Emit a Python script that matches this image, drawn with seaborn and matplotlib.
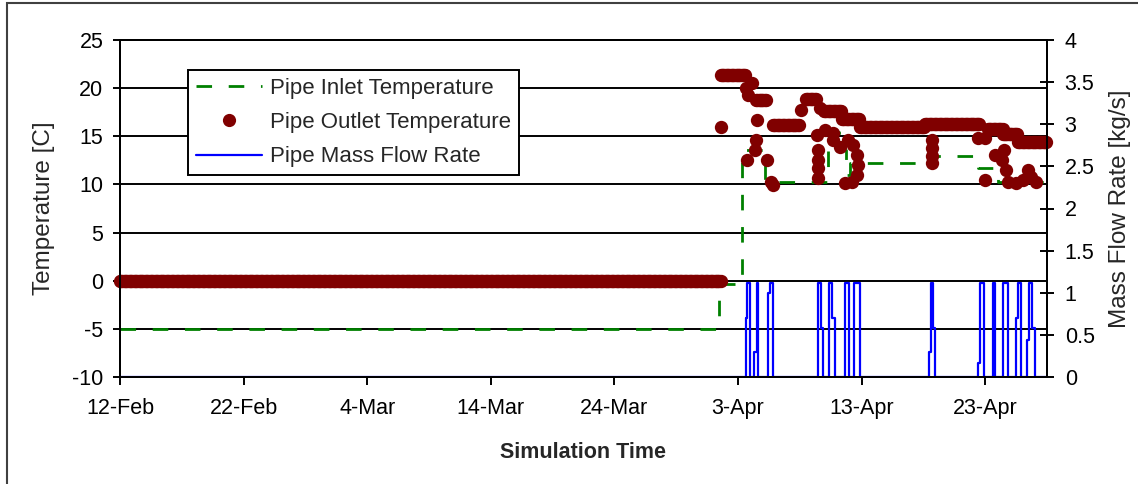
import numpy as np
import pandas as pd
import matplotlib
matplotlib.use("Agg")
import matplotlib.pyplot as plt
from matplotlib.lines import Line2D
from matplotlib.patches import Rectangle
import seaborn as sns

# ---------------- data ----------------
START_DATE = "2007-02-12"
X_END_DAY = 75
X_TICK_DAYS = [0, 10, 20, 30, 40, 50, 60, 70]
X_TICK_LABELS = ["12-Feb", "22-Feb", "4-Mar", "14-Mar", "24-Mar", "3-Apr", "13-Apr", "23-Apr"]

TEMP_TICKS = [-10, -5, 0, 5, 10, 15, 20, 25]
TEMP_TICK_LABELS = ["-10", "-5", "0", "5", "10", "15", "20", "25"]
FLOW_TICKS = [0, 0.5, 1, 1.5, 2, 2.5, 3, 3.5, 4]
FLOW_TICK_LABELS = ["0", "0.5", "1", "1.5", "2", "2.5", "3", "3.5", "4"]

SERIES_NAMES = ["Pipe Inlet Temperature", "Pipe Outlet Temperature", "Pipe Mass Flow Rate"]

# inlet temperature (step changes: value holds from each day to the next)
inlet_day = [0.0, 48.5, 50.3, 52.2, 57.3, 58.2, 58.7, 59.1, 66.0, 69.4, 71.0, 75.0]
inlet_temp = [-5.0, -0.3, 13.6, 10.3, 15.4, 13.6, 11.0, 12.2, 13.0, 11.7, 10.3, 10.3]

# outlet temperature: periods where the simulated value holds steady
outlet_hold_start = [0.0, 48.6, 51.46, 52.83, 55.5, 56.96, 58.41, 59.87, 65.13, 70.2, 71.4, 72.65]
outlet_hold_end = [48.6, 50.65, 52.27, 55.02, 56.31, 58.41, 59.87, 65.13, 69.6, 71.4, 72.65, 75.0]
outlet_hold_temp = [0.0, 21.4, 18.8, 16.2, 18.9, 17.6, 16.8, 16.0, 16.3, 15.8, 15.2, 14.4]
SIM_STEP_DAYS = 0.1

# outlet temperature: individual samples
outlet_point_day = [48.62, 50.65, 51.13, 50.81, 51.54, 51.46, 51.38, 50.73, 52.35, 52.67,
                    52.83, 55.10, 56.63, 56.39, 56.47, 56.47, 56.47, 56.47, 57.69, 58.25,
                    58.90, 59.30, 59.63, 59.71, 59.63, 59.22, 58.66, 65.70, 65.70, 65.70,
                    65.70, 69.42, 69.98, 69.98, 70.79, 71.36, 71.52, 71.68, 71.84, 72.49,
                    73.06, 73.46, 73.71, 74.11, 57.0, 57.7]
outlet_point_temp = [16.0, 20.0, 20.5, 19.3, 16.7, 14.6, 13.6, 12.5, 12.5, 10.3,
                     9.9, 17.7, 17.9, 15.1, 13.6, 12.5, 11.7, 10.7, 14.6, 13.9,
                     14.6, 14.1, 13.1, 12.0, 11.0, 10.3, 10.2, 14.6, 13.8, 13.0,
                     12.2, 14.8, 14.8, 10.5, 13.1, 12.5, 13.6, 11.5, 10.3, 10.2,
                     10.5, 11.5, 10.8, 10.3, 15.7, 15.3]

# mass flow rate (step changes)
flow_day = [0, 50.65, 50.73, 50.97, 51.29, 51.54, 51.62, 52.43, 52.59, 52.83,
            56.47, 56.72, 56.88, 57.36, 57.61, 57.85, 58.66, 58.98, 59.39, 59.87,
            65.45, 65.61, 65.78, 65.94, 69.42, 69.58, 69.90, 70.63, 70.79, 71.44,
            71.84, 72.49, 72.65, 72.90, 73.38, 73.54, 73.79, 74.03, 75.0]
flow_rate = [0, 0.70, 1.12, 0, 0.30, 1.12, 0, 1.00, 1.12, 0,
             1.12, 0.58, 0, 1.12, 0.70, 0, 1.12, 0, 1.12, 0,
             0.30, 1.12, 0.58, 0, 0.17, 1.12, 0, 1.12, 0, 1.12,
             0, 0.70, 1.12, 0, 0.44, 1.12, 0.58, 0, 0]

# ---------------- styling ----------------
GREEN = "#008000"
MAROON = "#800000"
BLUE = "#0000FF"
DASH = (0, (5.6, 6.0))

sns.set_style("white")
plt.rcParams["font.family"] = ["Liberation Sans", "DejaVu Sans"]
plt.rcParams["axes.unicode_minus"] = False

base = pd.Timestamp(START_DATE)


def to_time(days):
    return base + pd.to_timedelta(np.asarray(days, dtype=float), unit="D")


inlet_df = pd.DataFrame({"time": to_time(inlet_day), "temp": inlet_temp})
hold_days, hold_temps = [], []
for s, e, t in zip(outlet_hold_start, outlet_hold_end, outlet_hold_temp):
    d = np.arange(s, e + 1e-9, SIM_STEP_DAYS)
    hold_days.append(d)
    hold_temps.append(np.full(d.shape, t))
out_days = np.concatenate(hold_days + [np.asarray(outlet_point_day)])
out_temps = np.concatenate(hold_temps + [np.asarray(outlet_point_temp)])
outlet_df = pd.DataFrame({"time": to_time(out_days), "temp": out_temps})
flow_df = pd.DataFrame({"time": to_time(flow_day), "rate": flow_rate})

W, H = 1138, 484
fig = plt.figure(figsize=(W / 100, H / 100), dpi=100)
L, R, T, B = 120, 1047, 40, 377
ax = fig.add_axes([L / W, 1 - B / H, (R - L) / W, (B - T) / H])
ax2 = ax.twinx()

sns.lineplot(data=inlet_df, x="time", y="temp", ax=ax, color=GREEN, lw=2.0,
             linestyle=DASH, drawstyle="steps-post", estimator=None, sort=False,
             legend=False, zorder=2)
sns.scatterplot(data=outlet_df, x="time", y="temp", ax=ax, color=MAROON, s=92,
                linewidth=0, marker="o", clip_on=False, legend=False, zorder=3)
sns.lineplot(data=flow_df, x="time", y="rate", ax=ax2, color=BLUE, lw=1.6,
             drawstyle="steps-post", estimator=None, sort=False, legend=False)

ax.set_xlim(to_time([0])[0], to_time([X_END_DAY])[0])
ax.set_ylim(-10, 25)
ax2.set_ylim(0, 4)

ax.set_xticks(to_time(X_TICK_DAYS))
ax.set_xticklabels(X_TICK_LABELS)
ax.set_yticks(TEMP_TICKS)
ax.set_yticklabels(TEMP_TICK_LABELS)
ax2.set_yticks(FLOW_TICKS)
ax2.set_yticklabels(FLOW_TICK_LABELS)

ax.set_axisbelow(True)
ax.grid(axis="y", color="black", lw=1.4)
ax.grid(axis="x", visible=False)
ax2.grid(False)

for a in (ax, ax2):
    for sp in a.spines.values():
        sp.set_color("black")
        sp.set_linewidth(1.4)
        sp.set_visible(True)

ax.tick_params(axis="y", direction="out", length=5, width=1.4, pad=7,
               labelsize=15.5, colors="black", left=True)
ax.tick_params(axis="x", direction="out", length=6, width=1.4, pad=9,
               labelsize=15.5, colors="black", bottom=True)
ax2.tick_params(axis="y", direction="inout", length=9.4, width=1.4, pad=8,
                labelsize=15.5, colors="black", right=True)

ax.set_xlabel("Simulation Time", fontsize=15.5, fontweight="bold")
ax.xaxis.label.set_va("center")
ax.xaxis.set_label_coords(0.5, (B - 453) / (B - T))
ax.set_ylabel("Temperature [C]", fontsize=17.5)
ax.yaxis.label.set_va("center")
ax.yaxis.set_label_coords((44 - L) / (R - L), 0.5)
ax2.set_ylabel("Mass Flow Rate [kg/s]", fontsize=17.5, rotation=90)
ax2.yaxis.label.set_va("center")
ax2.yaxis.set_label_coords((1120 - L) / (R - L), 0.5)

handles = [
    Line2D([], [], color=GREEN, lw=2.0, linestyle=DASH),
    Line2D([], [], color=MAROON, marker="o", ms=9.5, mew=0, linestyle="none"),
    Line2D([], [], color=BLUE, lw=1.6),
]
leg = ax2.legend(handles, SERIES_NAMES, loc="upper left",
                 bbox_to_anchor=(188 / W, 1 - 70 / H), bbox_transform=fig.transFigure,
                 frameon=True, fancybox=False, shadow=False, edgecolor="black",
                 framealpha=1, borderaxespad=0, fontsize=16, handlelength=3.0,
                 handletextpad=0.33, borderpad=0.35, labelspacing=0.6)
leg.get_frame().set_linewidth(1.4)

fig.patches.append(Rectangle((7 / W, -0.1), 1.2, (1 - 3 / H) + 0.1,
                             transform=fig.transFigure, fill=False,
                             edgecolor="#404040", lw=1.5))

fig.savefig("out.png", dpi=100)
